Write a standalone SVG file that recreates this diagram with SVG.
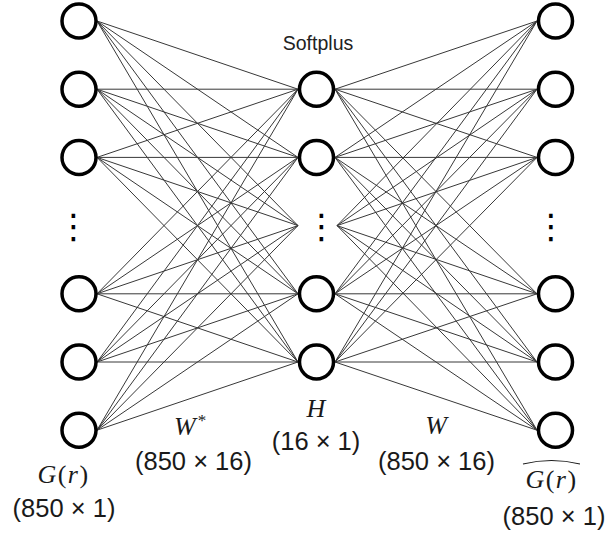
<svg xmlns="http://www.w3.org/2000/svg" width="608" height="533" viewBox="0 0 608 533">
  <style>
    .node { fill: #fff; stroke: #000; stroke-width: 3.5; }
    .edge { stroke: #383838; stroke-width: 1; fill: none; }
    .dots { fill: #000; font-family: "DejaVu Sans", sans-serif; font-size: 34px; text-anchor: middle; }
    .lbl { font-family: "Liberation Sans", Arial, sans-serif; font-size: 25.5px; fill: #1a1a1a; text-anchor: middle; }
    .math { font-family: "Liberation Serif", "Times New Roman", serif; font-size: 26px; fill: #1a1a1a; }
    .it { font-style: italic; }
    .title { font-family: "Liberation Sans", Arial, sans-serif; font-size: 19.5px; fill: #222; text-anchor: middle; }
  </style>
  <rect width="608" height="533" fill="#fff"/>

  <!-- weights: input layer to hidden layer (W*) -->
  <g id="edges-in">
    <line class="edge" x1="97" y1="21" x2="298" y2="89.2"/>
    <line class="edge" x1="97" y1="21" x2="298" y2="157.4"/>
    <line class="edge" x1="97" y1="21" x2="298" y2="225.6"/>
    <line class="edge" x1="97" y1="21" x2="298" y2="293.8"/>
    <line class="edge" x1="97" y1="21" x2="298" y2="362"/>
    <line class="edge" x1="97" y1="89.2" x2="298" y2="89.2"/>
    <line class="edge" x1="97" y1="89.2" x2="298" y2="157.4"/>
    <line class="edge" x1="97" y1="89.2" x2="298" y2="225.6"/>
    <line class="edge" x1="97" y1="89.2" x2="298" y2="293.8"/>
    <line class="edge" x1="97" y1="89.2" x2="298" y2="362"/>
    <line class="edge" x1="97" y1="157.4" x2="298" y2="89.2"/>
    <line class="edge" x1="97" y1="157.4" x2="298" y2="157.4"/>
    <line class="edge" x1="97" y1="157.4" x2="298" y2="225.6"/>
    <line class="edge" x1="97" y1="157.4" x2="298" y2="293.8"/>
    <line class="edge" x1="97" y1="157.4" x2="298" y2="362"/>
    <line class="edge" x1="97" y1="293.8" x2="298" y2="89.2"/>
    <line class="edge" x1="97" y1="293.8" x2="298" y2="157.4"/>
    <line class="edge" x1="97" y1="293.8" x2="298" y2="225.6"/>
    <line class="edge" x1="97" y1="293.8" x2="298" y2="293.8"/>
    <line class="edge" x1="97" y1="293.8" x2="298" y2="362"/>
    <line class="edge" x1="97" y1="362" x2="298" y2="89.2"/>
    <line class="edge" x1="97" y1="362" x2="298" y2="157.4"/>
    <line class="edge" x1="97" y1="362" x2="298" y2="225.6"/>
    <line class="edge" x1="97" y1="362" x2="298" y2="293.8"/>
    <line class="edge" x1="97" y1="362" x2="298" y2="362"/>
    <line class="edge" x1="97" y1="430.2" x2="298" y2="89.2"/>
    <line class="edge" x1="97" y1="430.2" x2="298" y2="157.4"/>
    <line class="edge" x1="97" y1="430.2" x2="298" y2="225.6"/>
    <line class="edge" x1="97" y1="430.2" x2="298" y2="293.8"/>
    <line class="edge" x1="97" y1="430.2" x2="298" y2="362"/>
  </g>

  <!-- weights: hidden layer to output layer (W) -->
  <g id="edges-out">
    <line class="edge" x1="335" y1="89.2" x2="537" y2="21"/>
    <line class="edge" x1="335" y1="89.2" x2="537" y2="89.2"/>
    <line class="edge" x1="335" y1="89.2" x2="537" y2="157.4"/>
    <line class="edge" x1="335" y1="89.2" x2="537" y2="293.8"/>
    <line class="edge" x1="335" y1="89.2" x2="537" y2="362"/>
    <line class="edge" x1="335" y1="89.2" x2="537" y2="430.2"/>
    <line class="edge" x1="335" y1="157.4" x2="537" y2="21"/>
    <line class="edge" x1="335" y1="157.4" x2="537" y2="89.2"/>
    <line class="edge" x1="335" y1="157.4" x2="537" y2="157.4"/>
    <line class="edge" x1="335" y1="157.4" x2="537" y2="293.8"/>
    <line class="edge" x1="335" y1="157.4" x2="537" y2="362"/>
    <line class="edge" x1="335" y1="157.4" x2="537" y2="430.2"/>
    <line class="edge" x1="337" y1="225.6" x2="537" y2="21"/>
    <line class="edge" x1="337" y1="225.6" x2="537" y2="89.2"/>
    <line class="edge" x1="337" y1="225.6" x2="537" y2="157.4"/>
    <line class="edge" x1="337" y1="225.6" x2="537" y2="293.8"/>
    <line class="edge" x1="337" y1="225.6" x2="537" y2="362"/>
    <line class="edge" x1="337" y1="225.6" x2="537" y2="430.2"/>
    <line class="edge" x1="335" y1="293.8" x2="537" y2="21"/>
    <line class="edge" x1="335" y1="293.8" x2="537" y2="89.2"/>
    <line class="edge" x1="335" y1="293.8" x2="537" y2="157.4"/>
    <line class="edge" x1="335" y1="293.8" x2="537" y2="293.8"/>
    <line class="edge" x1="335" y1="293.8" x2="537" y2="362"/>
    <line class="edge" x1="335" y1="293.8" x2="537" y2="430.2"/>
    <line class="edge" x1="335" y1="362" x2="537" y2="21"/>
    <line class="edge" x1="335" y1="362" x2="537" y2="89.2"/>
    <line class="edge" x1="335" y1="362" x2="537" y2="157.4"/>
    <line class="edge" x1="335" y1="362" x2="537" y2="293.8"/>
    <line class="edge" x1="335" y1="362" x2="537" y2="362"/>
    <line class="edge" x1="335" y1="362" x2="537" y2="430.2"/>
  </g>

  <!-- input layer G(r) -->
  <g id="in-1"><circle class="node" cx="79" cy="21" r="17"/></g>
  <g id="in-2"><circle class="node" cx="79" cy="89.2" r="17"/></g>
  <g id="in-3"><circle class="node" cx="79" cy="157.4" r="17"/></g>
  <g id="in-ellipsis"><text class="dots" x="73.5" y="238">⋮</text></g>
  <g id="in-4"><circle class="node" cx="79" cy="293.8" r="17"/></g>
  <g id="in-5"><circle class="node" cx="79" cy="362" r="17"/></g>
  <g id="in-6"><circle class="node" cx="79" cy="430.2" r="17"/></g>

  <!-- hidden layer H -->
  <g id="hid-label"><text class="title" x="318" y="50">Softplus</text></g>
  <g id="hid-1"><circle class="node" cx="316.5" cy="89.2" r="17"/></g>
  <g id="hid-2"><circle class="node" cx="316.5" cy="157.4" r="17"/></g>
  <g id="hid-ellipsis"><text class="dots" x="321.5" y="238">⋮</text></g>
  <g id="hid-3"><circle class="node" cx="316.5" cy="293.8" r="17"/></g>
  <g id="hid-4"><circle class="node" cx="316.5" cy="362" r="17"/></g>

  <!-- output layer G(r) reconstruction -->
  <g id="out-1"><circle class="node" cx="555.5" cy="21" r="17"/></g>
  <g id="out-2"><circle class="node" cx="555.5" cy="89.2" r="17"/></g>
  <g id="out-3"><circle class="node" cx="555.5" cy="157.4" r="17"/></g>
  <g id="out-ellipsis"><text class="dots" x="551" y="238">⋮</text></g>
  <g id="out-4"><circle class="node" cx="555.5" cy="293.8" r="17"/></g>
  <g id="out-5"><circle class="node" cx="555.5" cy="362" r="17"/></g>
  <g id="out-6"><circle class="node" cx="555.5" cy="430.2" r="17"/></g>

  <!-- labels -->
  <g id="labels">
    <text class="math" x="63.5" y="483" text-anchor="middle" letter-spacing="1.5"><tspan class="it">G</tspan>(<tspan class="it">r</tspan>)</text>
    <text class="lbl" x="64" y="517">(850 × 1)</text>

    <text class="math" x="174" y="435"><tspan class="it">W</tspan><tspan font-size="17" dx="2" dy="-9">*</tspan></text>
    <text class="lbl" x="193.5" y="470">(850 × 16)</text>

    <text class="math it" x="316" y="417" text-anchor="middle">H</text>
    <text class="lbl" x="316" y="450">(16 × 1)</text>

    <text class="math it" x="436" y="434" text-anchor="middle">W</text>
    <text class="lbl" x="436.5" y="470">(850 × 16)</text>

    <text class="math" x="551.5" y="488" text-anchor="middle" letter-spacing="1.5"><tspan class="it">G</tspan>(<tspan class="it">r</tspan>)</text>
    <path d="M523,464 Q551.5,457 580,464" fill="none" stroke="#1a1a1a" stroke-width="1.2"/>
    <text class="lbl" x="554" y="525">(850 × 1)</text>
  </g>
</svg>
